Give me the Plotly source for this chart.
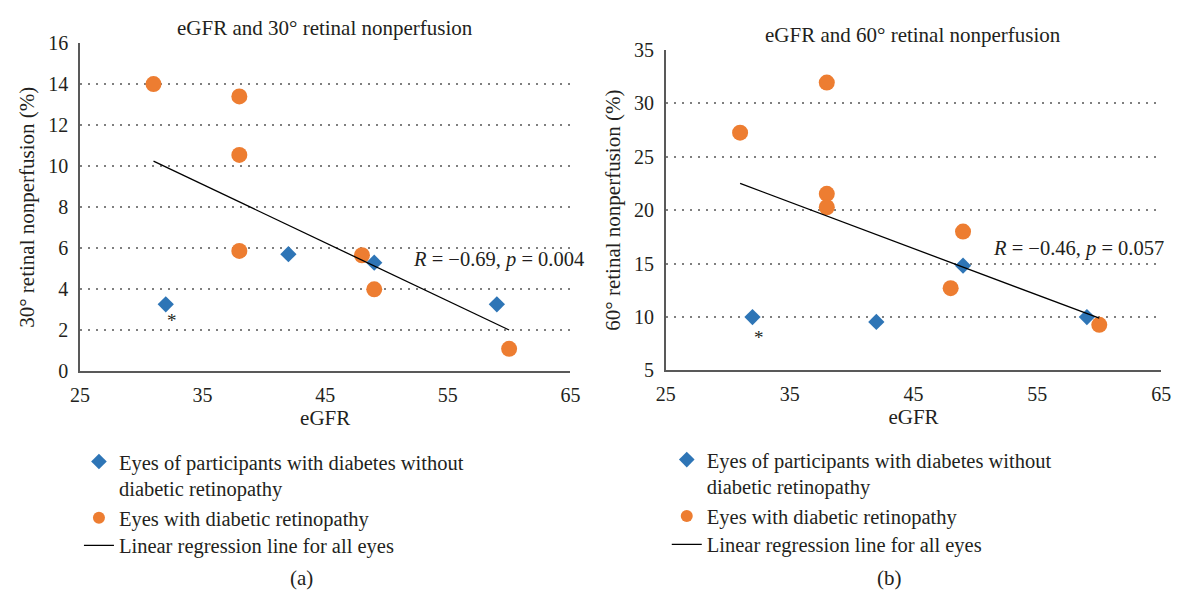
import numpy as np
import plotly.graph_objects as go

# ---------------- data ----------------
egfr_dr = [31, 38, 38, 38, 48, 49, 60]          # eyes with diabetic retinopathy
egfr_nodr = [32, 42, 49, 59]                     # eyes without diabetic retinopathy

np30_dr = [14.0, 13.4, 10.55, 5.87, 5.66, 4.0, 1.1]
np30_nodr = [3.27, 5.71, 5.3, 3.27]

np60_dr = [27.25, 31.93, 21.53, 20.27, 12.7, 17.99, 9.27]
np60_nodr = [10.0, 9.54, 14.8, 10.0]

stats_text = ["<i>R</i> = −0.69, <i>p</i> = 0.004", "<i>R</i> = −0.46, <i>p</i> = 0.057"]
panel_titles = ["eGFR and 30° retinal nonperfusion", "eGFR and 60° retinal nonperfusion"]
y_titles = ["30° retinal nonperfusion (%)", "60° retinal nonperfusion (%)"]
x_title = "eGFR"
panel_labels = ["(a)", "(b)"]
name_nodr = "Eyes of participants with diabetes without<br>diabetic retinopathy"
name_dr = "Eyes with diabetic retinopathy"
name_fit = "Linear regression line for all eyes"

# ---------------- style ----------------
PAGE_MARGIN = 8                     # default <body> margin of the html page
W, H = 1183 - PAGE_MARGIN, 601 - PAGE_MARGIN
FONT = "Liberation Serif, Times New Roman, serif"
TXT = "#231f20"
BLUE = "#2e75b6"
ORANGE = "#ed7d31"
AX = "#595959"
GRID = "#7f7f7f"


def px_x(p):
    """page pixel -> paper fraction (x)"""
    return (p - PAGE_MARGIN) / W


def px_y(p):
    """page pixel -> paper fraction (y)"""
    return 1 - (p - PAGE_MARGIN) / H


def fit_line(xs, ys):
    coef = np.polyfit(xs, ys, 1)
    x_end = np.array([min(xs), max(xs)])
    return x_end, np.polyval(coef, x_end)


fig = go.Figure()

panels = [
    dict(xa="x", ya="y", leg_m="legend", leg_l="legend3", nodr=np30_nodr, dr=np30_dr, dr_first=True),
    dict(xa="x2", ya="y2", leg_m="legend2", leg_l="legend4", nodr=np60_nodr, dr=np60_dr, dr_first=False),
]

for p in panels:
    blue = go.Scatter(x=egfr_nodr, y=p["nodr"], mode="markers", name=name_nodr,
                      marker=dict(symbol="diamond", color=BLUE, size=12.5),
                      xaxis=p["xa"], yaxis=p["ya"], legend=p["leg_m"], legendrank=1,
                      cliponaxis=False)
    orange = go.Scatter(x=egfr_dr, y=p["dr"], mode="markers", name=name_dr,
                        marker=dict(symbol="circle", color=ORANGE, size=16),
                        xaxis=p["xa"], yaxis=p["ya"], legend=p["leg_m"], legendrank=2,
                        cliponaxis=False)
    order = [orange, blue] if p["dr_first"] else [blue, orange]
    for t in order:
        fig.add_trace(t)
    all_x = egfr_dr + egfr_nodr
    all_y = p["dr"] + p["nodr"]
    fx, fy = fit_line(all_x, all_y)
    fig.add_trace(go.Scatter(x=fx, y=fy, mode="lines", name=name_fit,
                             line=dict(color="#000000", width=1.3),
                             xaxis=p["xa"], yaxis=p["ya"], legend=p["leg_l"], legendrank=3))

xaxis_common = dict(range=[25, 65], dtick=10, tick0=25, showgrid=False, zeroline=False,
                    showline=True, linecolor=AX, linewidth=1.5,
                    ticks="outside", ticklen=5, tickcolor="rgba(0,0,0,0)",
                    tickfont=dict(family=FONT, size=20, color=TXT),
                    title=dict(text=x_title, font=dict(family=FONT, size=21, color=TXT), standoff=4))
yaxis_common = dict(showgrid=True, gridcolor=GRID, gridwidth=1.8, griddash="1.8px,6.2px",
                    zeroline=False, showline=True, linecolor=AX, linewidth=1.5,
                    ticks="outside", ticklen=6, tickcolor="rgba(0,0,0,0)",
                    tickfont=dict(family=FONT, size=20, color=TXT))

legend_font = dict(family=FONT, size=20.5, color=TXT)
legend_common = dict(xanchor="left", yanchor="top", font=legend_font, valign="top",
                     bgcolor="rgba(0,0,0,0)", tracegroupgap=0)

fig.update_layout(
    width=W, height=H,
    margin=dict(l=0, r=0, t=0, b=0),
    paper_bgcolor="white", plot_bgcolor="white",
    font=dict(family=FONT, color=TXT),
    xaxis=dict(domain=[px_x(71), px_x(570)], anchor="y", **xaxis_common),
    yaxis=dict(domain=[px_y(374), px_y(33)], anchor="x", range=[0, 16], dtick=2,
               title=dict(text=y_titles[0], font=dict(family=FONT, size=21, color=TXT), standoff=8),
               **yaxis_common),
    xaxis2=dict(domain=[px_x(667), px_x(1171)], anchor="y2", **xaxis_common),
    yaxis2=dict(domain=[px_y(373), px_y(40)], anchor="x2", range=[5, 35], dtick=5,
                title=dict(text=y_titles[1], font=dict(family=FONT, size=21, color=TXT), standoff=8),
                **yaxis_common),
    # marker legends (constant symbol size) and line legends (true line width)
    legend=dict(x=px_x(70), y=px_y(447), itemsizing="constant", **legend_common),
    legend2=dict(x=px_x(668), y=px_y(445), itemsizing="constant", **legend_common),
    legend3=dict(x=px_x(70), y=px_y(534), itemsizing="trace", **legend_common),
    legend4=dict(x=px_x(668), y=px_y(533), itemsizing="trace", **legend_common),
    showlegend=True,
)

annotations = []
# panel titles
for txt, cx, cy in [(panel_titles[0], 320, 17), (panel_titles[1], 919, 25)]:
    annotations.append(dict(text=txt, x=px_x(cx), y=px_y(cy), xref="paper", yref="paper",
                            showarrow=False, xanchor="center", yanchor="middle",
                            font=dict(family=FONT, size=21, color=TXT)))
# statistics
annotations.append(dict(text=stats_text[0], x=59.1, y=5.43, xref="x", yref="y", showarrow=False,
                        xanchor="center", yanchor="middle", font=dict(family=FONT, size=20.5, color=TXT)))
annotations.append(dict(text=stats_text[1], x=58.3, y=16.44, xref="x2", yref="y2", showarrow=False,
                        xanchor="center", yanchor="middle", font=dict(family=FONT, size=20.5, color=TXT)))
# asterisks
annotations.append(dict(text="*", x=32.5, y=2.46, xref="x", yref="y", showarrow=False,
                        font=dict(family=FONT, size=19, color=TXT)))
annotations.append(dict(text="*", x=32.5, y=8.1, xref="x2", yref="y2", showarrow=False,
                        font=dict(family=FONT, size=19, color=TXT)))
# panel labels
for txt, cx in [(panel_labels[0], 296), (panel_labels[1], 895)]:
    annotations.append(dict(text=txt, x=px_x(cx), y=px_y(589), xref="paper", yref="paper",
                            showarrow=False, xanchor="center", yanchor="middle",
                            font=dict(family=FONT, size=21, color=TXT)))
fig.update_layout(annotations=annotations)

fig.write_html("out.html")
